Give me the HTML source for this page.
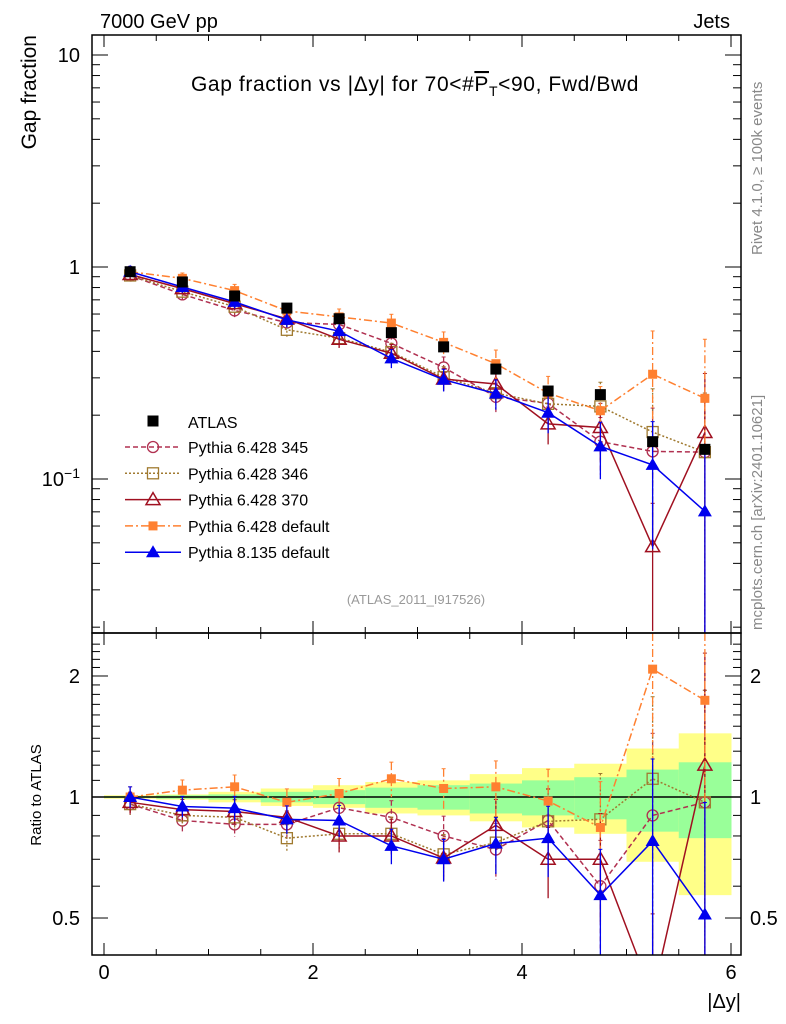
<!DOCTYPE html>
<html><head><meta charset="utf-8"><style>
html,body{margin:0;background:#fff;overflow:hidden;width:786px;height:1024px}
svg{display:block}
svg text{font-family:"Liberation Sans","DejaVu Sans",sans-serif}
</style></head><body>
<svg id="c" width="786" height="1024" xmlns="http://www.w3.org/2000/svg">
<rect width="786" height="1024" fill="#fff"/>
<text x="100" y="28" font-size="20">7000 GeV pp</text>
<text x="730" y="28" font-size="20" text-anchor="end">Jets</text>
<text x="415" y="91" font-size="21" letter-spacing="0.6" text-anchor="middle">Gap fraction vs |Δy| for 70&lt;#<tspan text-decoration="overline">P</tspan><tspan font-size="14" dy="5">T</tspan><tspan dy="-5">&lt;90, Fwd/Bwd</tspan></text>
<text transform="translate(36,35) rotate(-90)" font-size="21" text-anchor="end">Gap fraction</text>
<text transform="translate(41,795) rotate(-90)" font-size="15" text-anchor="middle">Ratio to ATLAS</text>
<text x="741" y="1008" font-size="20" text-anchor="end">|Δy|</text>
<text transform="translate(762,255) rotate(-90)" font-size="15" fill="#888">Rivet 4.1.0, ≥ 100k events</text>
<text transform="translate(762,630) rotate(-90)" font-size="15" fill="#888">mcplots.cern.ch [arXiv:2401.10621]</text>
<text x="416" y="604" font-size="13" fill="#999" text-anchor="middle">(ATLAS_2011_I917526)</text>
<g id="g"></g>
</svg>
<script>
const xc=[0.25,0.75,1.25,1.75,2.25,2.75,3.25,3.75,4.25,4.75,5.25,5.75];
const atlas=[0.95,0.85,0.73,0.64,0.57,0.49,0.42,0.33,0.26,0.25,0.15,0.138];
const atlasErr=[0.02,0.02,0.02,0.02,0.02,0.02,0.02,0.02,0.02,0.02,0.02,0.02];
const r345=[0.96,0.874,0.855,0.855,0.94,0.89,0.80,0.74,0.874,0.60,0.90,0.97];
const r346=[0.96,0.90,0.89,0.79,0.81,0.81,0.72,0.77,0.87,0.88,1.11,0.97];
const r370=[0.97,0.93,0.92,0.89,0.80,0.80,0.705,0.85,0.70,0.70,0.32,1.20];
const r6def=[1.0,1.04,1.06,0.97,1.02,1.11,1.05,1.06,0.977,0.84,2.08,1.74];
const r8=[1.0,0.947,0.938,0.88,0.874,0.756,0.70,0.766,0.79,0.57,0.777,0.51];
const modelErr=[0.06,0.06,0.07,0.08,0.09,0.1,0.12,0.16,0.2,0.3,0.6,0.9];
const yelUp=[1.01,1.015,1.03,1.05,1.07,1.09,1.10,1.14,1.18,1.21,1.32,1.44];
const yelLo=[0.99,0.985,0.97,0.95,0.94,0.91,0.90,0.87,0.84,0.81,0.69,0.57];
const grnUp=[1.005,1.01,1.015,1.03,1.04,1.055,1.07,1.08,1.10,1.12,1.17,1.22];
const grnLo=[0.995,0.99,0.985,0.97,0.96,0.94,0.93,0.91,0.90,0.88,0.82,0.79];
const xTicks=[0,2,4,6];

const NS="http://www.w3.org/2000/svg",G=document.getElementById('g');
const L=92,R=741,T=35,M=633,B=955;
const X=v=>104+v*104.5;
const Y=v=>Math.min(M,Math.max(T,267-Math.log10(v)*212));
const YR=v=>Math.min(B,Math.max(M,797-Math.log10(v)*402));
function el(t,a,p){const e=document.createElementNS(NS,t);for(const k in a)e.setAttribute(k,a[k]);(p||G).appendChild(e);return e;}
const defs=el('defs',{});
const c1=el('clipPath',{id:'cm'},defs);el('rect',{x:L,y:T,width:R-L,height:M-T},c1);
const c2=el('clipPath',{id:'cr'},defs);el('rect',{x:L,y:M,width:R-L,height:B-M},c2);
const gm=el('g',{'clip-path':'url(#cm)'});
const gr=el('g',{'clip-path':'url(#cr)'});
xc.forEach((x,i)=>{
 let r=el('rect',{x:X(x-0.25),y:YR(yelUp[i]),width:104.5/2+0.5,height:YR(yelLo[i])-YR(yelUp[i]),fill:'#ffff88'},gr);
 
 
 let g2=el('rect',{x:X(x-0.25),y:YR(grnUp[i]),width:104.5/2+0.5,height:YR(grnLo[i])-YR(grnUp[i]),fill:'#99ff99'},gr);
 
 
});
el('line',{x1:L,x2:R,y1:YR(1),y2:YR(1),stroke:'#000','stroke-width':1.5},gr);
function marker(p,type,x,y,col){const s=5.5;
 if(type=='sq')return el('rect',{x:x-s,y:y-s,width:2*s,height:2*s,fill:col},p);
 if(type=='osq')return el('rect',{x:x-s,y:y-s,width:2*s,height:2*s,fill:'none',stroke:col,'stroke-width':1.3},p);
 if(type=='oc')return el('circle',{cx:x,cy:y,r:s,fill:'none',stroke:col,'stroke-width':1.3},p);
 if(type=='fsq')return el('rect',{x:x-4.5,y:y-4.5,width:9,height:9,fill:col},p);
 if(type=='otri')return el('path',{d:`M${x} ${y-7}L${x+7} ${y+5}L${x-7} ${y+5}Z`,fill:'none',stroke:col,'stroke-width':1.5},p);
 if(type=='tri')return el('path',{d:`M${x} ${y-7}L${x+7} ${y+5}L${x-7} ${y+5}Z`,fill:col},p);}
const series=[
 {name:'Pythia 6.428 345',r:r345,col:'#b03050',dash:'5,3',m:'oc'},
 {name:'Pythia 6.428 346',r:r346,col:'#a07a30',dash:'2,2',m:'osq'},
 {name:'Pythia 6.428 370',r:r370,col:'#a01020',dash:'',m:'otri'},
 {name:'Pythia 6.428 default',r:r6def,col:'#ff8030',dash:'8,3,2,3',m:'fsq'},
 {name:'Pythia 8.135 default',r:r8,col:'#0000ee',dash:'',m:'tri'}];
const YRraw=v=>797-Math.log10(v)*402;
series.forEach((s,si)=>{
 [[gm,i=>s.r[i]*atlas[i],Y,Y],[gr,i=>s.r[i],YR,YRraw]].forEach(([p,f,YY,YL])=>{
  const g=el('g',{},p);
  
  
  const pts=xc.map((x,i)=>X(x)+','+YL(f(i))).join(' ');
  el('polyline',{points:pts,fill:'none',stroke:s.col,'stroke-width':1.5,'stroke-dasharray':s.dash},g);
  xc.forEach((x,i)=>{const v=f(i),e=modelErr[i];
   el('line',{x1:X(x),x2:X(x),y1:YY(v*(1+e)),y2:YY(Math.max(v*(1-e),1e-3)),stroke:s.col,'stroke-width':1.3,'stroke-dasharray':s.dash},g);
   el('line',{x1:X(x)-2,x2:X(x)+2,y1:YY(v*(1+e)),y2:YY(v*(1+e)),stroke:s.col},g);
   const mk=marker(g,s.m,X(x),YL(v),s.col);
   
   
  });
 });
});
{const g=el('g',{},gm);
 
 
 xc.forEach((x,i)=>{
  el('line',{x1:X(x),x2:X(x),y1:Y(atlas[i]*(1+atlasErr[i])),y2:Y(atlas[i]*(1-atlasErr[i])),stroke:'#000'},g);
  const mk=marker(g,'sq',X(x),Y(atlas[i]),'#000');
  
  });}
el('rect',{x:L,y:T,width:R-L,height:M-T,fill:'none',stroke:'#000','stroke-width':1.5});
el('rect',{x:L,y:M,width:R-L,height:B-M,fill:'none',stroke:'#000','stroke-width':1.5});
for(let v=0;v<=6.01;v+=0.5){const maj=Math.abs(v-Math.round(v/2)*2)<1e-6;const len=maj?12:6;
 [[T,1],[M,-1],[M,1],[B,-1]].forEach(([y,d])=>el('line',{x1:X(v),x2:X(v),y1:y,y2:y+d*len,stroke:'#000'}));}
xTicks.forEach(v=>{const t=el('text',{x:X(v),y:979,'font-size':20,'text-anchor':'middle'});t.textContent=v;
 
 });
for(let d=-2;d<=1;d++)for(let m=1;m<=9;m++){const v=m*Math.pow(10,d);const y=267-Math.log10(v)*212;if(y<T||y>M)continue;const len=m==1?16:8;
 el('line',{x1:L,x2:L+len,y1:y,y2:y,stroke:'#000'});el('line',{x1:R,x2:R-len,y1:y,y2:y,stroke:'#000'});}
[[10,'10'],[1,'1']].forEach(([v,s])=>{const t=el('text',{x:80,y:Y(v)+7,'font-size':20,'text-anchor':'end'});t.textContent=s;
 
 });
{const t=el('text',{x:80,y:Y(0.1)+7,'font-size':20,'text-anchor':'end'});t.innerHTML='10<tspan font-size="14" dy="-8">−1</tspan>';
 
 }
for(let v=0.4;v<=2.5;v+=0.1){const y=YRraw(v);if(y<M||y>B)continue;const maj=[0.5,1,2].some(a=>Math.abs(a-v)<1e-6);const len=maj?16:8;
 el('line',{x1:L,x2:L+len,y1:y,y2:y,stroke:'#000'});el('line',{x1:R,x2:R-len,y1:y,y2:y,stroke:'#000'});}
[[2,'2'],[1,'1'],[0.5,'0.5']].forEach(([v,s])=>{
 let t=el('text',{x:80,y:YR(v)+7,'font-size':20,'text-anchor':'end'});t.textContent=s;
 
 
 t=el('text',{x:750,y:YR(v)+7,'font-size':20});t.textContent=s;
 
 });
const lg=el('g',{});


marker(lg,'sq',153,421,'#000');
{const t=el('text',{x:188,y:428,'font-size':16},lg);t.textContent='ATLAS';}
series.forEach((s,i)=>{const y=447+i*26.3;
 const e=el('g',{},lg);
 
 
 el('line',{x1:125,x2:181,y1:y,y2:y,stroke:s.col,'stroke-width':1.5,'stroke-dasharray':s.dash},e);
 marker(e,s.m,153,y,s.col);
 const t=el('text',{x:188,y:y+6,'font-size':16},e);t.textContent=s.name;});
</script>
</body></html>
